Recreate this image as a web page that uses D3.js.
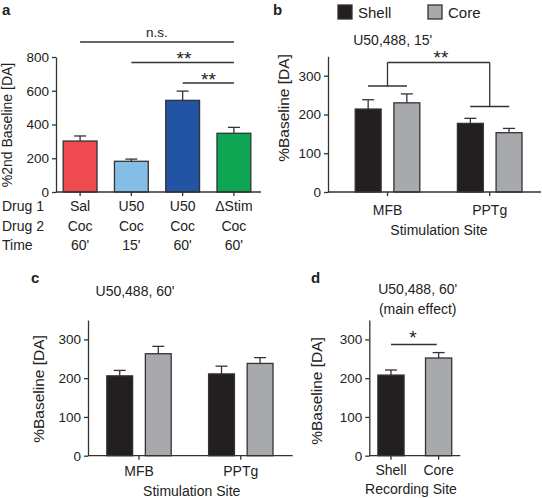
<!DOCTYPE html>
<html><head><meta charset="utf-8">
<script src="https://cdn.jsdelivr.net/npm/d3@7"></script>
<style>body{margin:0;background:#fff}svg{display:block;font-family:"Liberation Sans",Arial,Helvetica,sans-serif}</style>
</head><body><svg id="c" width="542" height="498"></svg>
<script>
// ---- data ----
const aCats = ["Sal|Coc|60'", "U50|Coc|15'", "U50b|Coc|60'", "dStim|Coc|60'"];
const aDrug1 = ["Sal", "U50", "U50", "\u0394Stim"];
const aDrug2 = ["Coc", "Coc", "Coc", "Coc"];
const aTime = ["60'", "15'", "60'", "60'"];
const aValues = [302, 182, 543, 348];
const aErrors = [30, 13, 55, 35];
const aColors = ["#ef4a50", "#84bde6", "#2353a3", "#0ea652"];
const aTicks = [0, 200, 400, 600, 800];

const sites = ["MFB", "PPTg"];
const regions = ["Shell", "Core"];
const bValues = [[214, 230], [177, 153]];
const bErrors = [[24, 23], [13, 11]];
const cValues = [[206, 263], [211, 238]];
const cErrors = [[14, 19], [20, 15]];
const dValues = [208, 252];
const dErrors = [13, 14];
const bcdTicks = [0, 100, 200, 300];
const regionColors = ["#231f20", "#a7a9ac"];

const svg = d3.select("#c");
const INK = "#333";
const SW = 1.3;

function yAxis(g, y, x0, ticks) {
  const ax = g.append("g").attr("transform", `translate(${x0},0)`)
    .call(d3.axisLeft(y).tickValues(ticks).tickSize(4).tickPadding(3).tickSizeOuter(0));
  ax.select(".domain").attr("stroke", INK).attr("stroke-width", SW);
  ax.selectAll(".tick line").attr("stroke", INK).attr("stroke-width", SW);
  ax.selectAll("text").attr("font-size", 13.5).attr("fill", "#222").attr("font-family", null);
}
function xLine(g, x0, x1, y0) {
  g.append("line").attr("x1", x0).attr("x2", x1).attr("y1", y0).attr("y2", y0)
    .attr("stroke", INK).attr("stroke-width", SW);
}
function xTicks(g, xs, y0) {
  g.selectAll(null).data(xs).enter().append("line")
    .attr("x1", d => d).attr("x2", d => d).attr("y1", y0).attr("y2", y0 + 4)
    .attr("stroke", INK).attr("stroke-width", SW);
}
function bar(g, x, w, y, v, e, fill) {
  g.append("line").attr("x1", x + w / 2).attr("x2", x + w / 2)
    .attr("y1", y(v)).attr("y2", y(v + e)).attr("stroke", INK).attr("stroke-width", SW);
  g.append("line").attr("x1", x + w / 2 - 6).attr("x2", x + w / 2 + 6)
    .attr("y1", y(v + e)).attr("y2", y(v + e)).attr("stroke", INK).attr("stroke-width", SW);
  g.append("rect").attr("x", x).attr("y", y(v)).attr("width", w).attr("height", y(0) - y(v))
    .attr("fill", fill).attr("stroke", INK).attr("stroke-width", SW);
}
function text(g, x, y, s, opts = {}) {
  const t = g.append("text").attr("x", x).attr("y", y).text(s)
    .attr("font-size", opts.size || 14).attr("fill", opts.fill || "#222")
    .attr("text-anchor", opts.anchor || "middle");
  if (opts.bold) t.attr("font-weight", "bold");
  if (opts.rotate) t.attr("transform", `rotate(-90,${x},${y})`);
  return t;
}
function line(g, x1, y1, x2, y2) {
  g.append("line").attr("x1", x1).attr("y1", y1).attr("x2", x2).attr("y2", y2)
    .attr("stroke", INK).attr("stroke-width", SW);
}

// ---- panel a ----
{
  const g = svg.append("g");
  const x = d3.scaleBand().domain(aCats).range([56, 258]).paddingInner(0.34).paddingOuter(0.14);
  const y = d3.scaleLinear().domain([0, 800]).range([192, 57]);
  aCats.forEach((c, i) => bar(g, x(c), x.bandwidth(), y, aValues[i], aErrors[i], aColors[i]));
  yAxis(g, y, 56, aTicks);
  xLine(g, 56, 261, 192);
  const cx = aCats.map(c => x(c) + x.bandwidth() / 2);
  xTicks(g, cx, 192);
  text(g, 2, 211, "Drug 1", { anchor: "start" });
  text(g, 2, 231, "Drug 2", { anchor: "start" });
  text(g, 2, 250, "Time", { anchor: "start" });
  cx.forEach((c, i) => {
    text(g, c, 211, aDrug1[i]);
    text(g, c, 231, aDrug2[i]);
    text(g, c, 250, aTime[i]);
  });
  text(g, 12, 125, "%2nd Baseline [DA]", { rotate: true });
  // significance
  line(g, cx[0], 42, cx[3], 42); text(g, (cx[0] + cx[3]) / 2, 37, "n.s.", { size: 13.5 });
  line(g, cx[1], 62.5, cx[3], 62.5); text(g, 184, 65, "**", { size: 19 });
  line(g, cx[2], 83, cx[3], 83); text(g, 208.5, 86, "**", { size: 19 });
  text(g, 2, 15, "a", { anchor: "start", bold: true, size: 15 });
}

function groupedPanel(g, xAxis0, xAxis1, gx0, gx1, innerHalf, y0, values, errors) {
  const y = d3.scaleLinear().domain([0, 350]).range([y0, y0 - 350 * 116.3 / 300]);
  const gx = d3.scalePoint().domain(sites).range([gx0, gx1]);
  const ix = d3.scaleBand().domain(regions).range([-innerHalf, innerHalf]).paddingInner(0.33);
  sites.forEach((s, si) => regions.forEach((r, ri) =>
    bar(g, gx(s) + ix(r), ix.bandwidth(), y, values[si][ri], errors[si][ri], regionColors[ri])));
  yAxis(g, y, xAxis0, bcdTicks);
  xLine(g, xAxis0, xAxis1, y0);
  xTicks(g, sites.map(s => gx(s)), y0);
  return { y, gx, ix };
}

// ---- panel b ----
{
  const g = svg.append("g");
  const { y, gx } = groupedPanel(g, 328, 541, 387.5, 489.7, 32.3, 192, bValues, bErrors);
  sites.forEach(s => text(g, gx(s), 215, s));
  text(g, 439, 235, "Stimulation Site");
  text(g, 289, 108, "%Baseline [DA]", { rotate: true, size: 15.5 });
  text(g, 392.7, 45, "U50,488, 15'");
  text(g, 273, 15, "b", { anchor: "start", bold: true, size: 15 });
  // legend
  regions.forEach((r, i) => {
    const lx = [338, 428][i];
    g.append("rect").attr("x", lx).attr("y", 5).attr("width", 14).attr("height", 14)
      .attr("fill", regionColors[i]).attr("stroke", INK).attr("stroke-width", SW);
    text(g, lx + 20, 18, r, { anchor: "start", size: 15 });
  });
  // bracket
  const l = gx("MFB"), rr = gx("PPTg");
  line(g, l, 62.5, rr, 62.5);
  line(g, l, 62.5, l, 86); line(g, l - 19.5, 86, l + 19.5, 86);
  line(g, rr, 62.5, rr, 106.5); line(g, rr - 19.5, 106.5, rr + 19.5, 106.5);
  text(g, 441, 64, "**", { size: 19 });
}

// ---- panel c ----
{
  const g = svg.append("g");
  const { gx } = groupedPanel(g, 88, 292.7, 139, 240.8, 32.2, 455.7, cValues, cErrors);
  sites.forEach(s => text(g, gx(s), 476, s));
  text(g, 191.7, 495.5, "Stimulation Site");
  text(g, 44, 389, "%Baseline [DA]", { rotate: true, size: 15.5 });
  text(g, 135, 295.5, "U50,488, 60'");
  text(g, 31, 283, "c", { anchor: "start", bold: true, size: 15 });
}

// ---- panel d ----
{
  const g = svg.append("g");
  const y0 = 455.7;
  const y = d3.scaleLinear().domain([0, 350]).range([y0, y0 - 350 * 116.3 / 300]);
  const x = d3.scaleBand().domain(regions).range([369.3, 460.3]).paddingInner(0.45).paddingOuter(0.18);
  regions.forEach((r, i) => bar(g, x(r), x.bandwidth(), y, dValues[i], dErrors[i], regionColors[i]));
  yAxis(g, y, 369.3, bcdTicks);
  xLine(g, 369.3, 460.3, y0);
  const cx = regions.map(r => x(r) + x.bandwidth() / 2);
  xTicks(g, cx, y0);
  regions.forEach((r, i) => text(g, cx[i], 475, r));
  text(g, 411, 493.5, "Recording Site");
  text(g, 322, 391, "%Baseline [DA]", { rotate: true, size: 15.5 });
  text(g, 417.7, 294, "U50,488, 60'");
  text(g, 417.7, 314, "(main effect)");
  text(g, 311, 283, "d", { anchor: "start", bold: true, size: 15 });
  line(g, 391, 344.5, 436.7, 344.5);
  text(g, 413, 344, "*", { size: 19 });
}
</script></body></html>
